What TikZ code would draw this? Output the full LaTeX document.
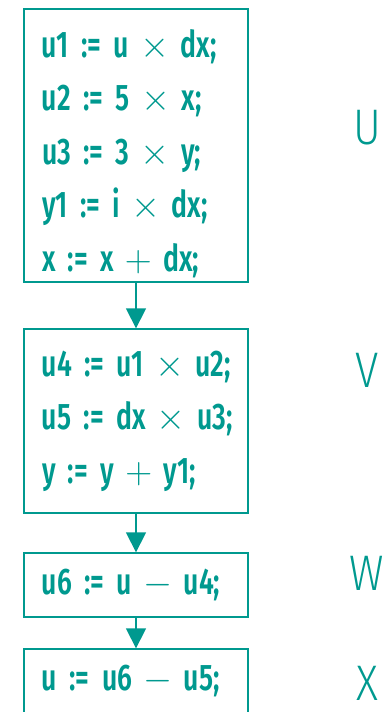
\documentclass[tikz,border=0pt]{standalone}
\usepackage{graphicx}
\usepackage{fontspec}
\setmainfont{Fira Sans}[FakeStretch=0.72, WordSpace=0.8,
  BoldFont={Fira Sans SemiBold}, BoldFeatures={FakeStretch=0.72, WordSpace=0.8}]
\newfontfamily\lblfont{Fira Sans Light}[FakeStretch=0.85]
\usetikzlibrary{positioning,arrows.meta}
\definecolor{tealc}{RGB}{0,153,143}
\newcommand{\opx}{\kern-1pt\scalebox{1.5}{$\times$}\kern-1pt}
\newcommand{\opp}{\kern-1pt\scalebox{1.5}{$+$}\kern-1pt}
\newcommand{\opm}{\kern-1pt\scalebox{1.5}{$-$}\kern-1pt}
\newcommand{\codeindent}{\leftskip=12pt\relax}

\begin{document}
\begin{tikzpicture}[
  x=1pt, y=-1pt,
  >={Triangle[length=20pt,width=20pt]},
  blk/.style={draw=tealc, line width=1.3pt, text=tealc, minimum width=224pt,
              text width=212pt, inner xsep=6pt, align=left,
              execute at begin node=\codeindent,
              font=\bfseries\fontsize{37}{53.5}\selectfont},
  lbl/.style={text=tealc, font=\lblfont\fontsize{50}{50}\selectfont},
  flow/.style={draw=tealc, line width=1.3pt, ->}]

  \useasboundingbox (0,0) rectangle (385,712);

  \node[blk, minimum height=273pt] (bU) at (136,145.5)
    {\rule{0pt}{44pt}u1 := u \opx{} dx;\\ u2 := 5 \opx{} x;\\
     u3 := 3 \opx{} y;\\ y1 := i \opx{} dx;\\ x := x \opp{} dx;};
  \node[blk, minimum height=184pt] (bV) at (136,421)
    {u4 := u1 \opx{} u2;\\ u5 := dx \opx{} u3;\\ y := y \opp{} y1;};
  \node[blk, minimum height=64pt] (bW) at (136,585) {u6 := u \opm{} u4;};
  \node[blk, minimum height=64pt] (bX) at (136,681) {u := u6 \opm{} u5;};

  \draw[flow] (bU) -- (bV);
  \draw[flow] (bV) -- (bW);
  \draw[flow] (bW) -- (bX);

  \node[lbl] (lU) at (367,128) {U};
  \node[lbl] (lV) at (367,370) {V};
  \node[lbl] (lW) at (367,573) {W};
  \node[lbl] (lX) at (367,683) {X};
\end{tikzpicture}
\end{document}
